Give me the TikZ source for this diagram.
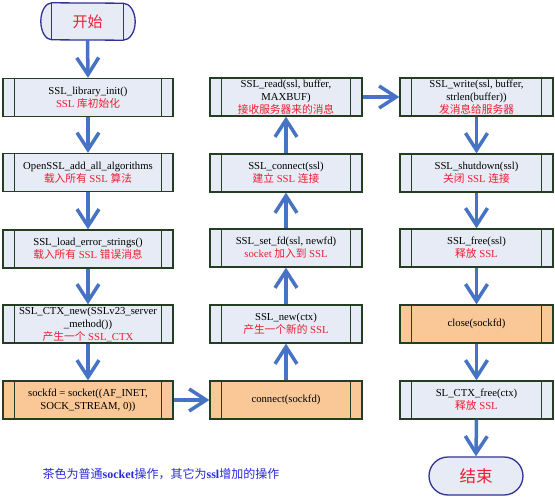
\documentclass[tikz,border=0pt]{standalone}
\usepackage{fontspec}
\setmainfont{Liberation Serif}
\newfontfamily\cjk{Noto Sans CJK SC}
\usetikzlibrary{arrows.meta}
\definecolor{boxfill}{RGB}{230,235,245}
\definecolor{boxline}{RGB}{35,62,35}
\definecolor{termline}{RGB}{50,50,150}
\definecolor{flowblue}{RGB}{70,115,195}
\definecolor{redtxt}{RGB}{235,30,50}
\definecolor{sockfill}{RGB}{250,200,150}
\definecolor{footblue}{RGB}{40,40,220}
\newcommand\zh[1]{{\cjk #1}}
\newcommand\rt[1]{\textcolor{redtxt}{#1}}
\tikzset{
  proc/.style={draw=boxline, line width=1.3pt, fill=boxfill, minimum height=38pt,
    inner sep=0pt, align=center, font=\fontsize{10.7}{13}\selectfont,
    path picture={\draw[boxline, line width=1.3pt]
      ([xshift=11.5pt]path picture bounding box.north west) -- ([xshift=11.5pt]path picture bounding box.south west)
      ([xshift=-11.5pt]path picture bounding box.north east) -- ([xshift=-11.5pt]path picture bounding box.south east);}},
  lcol/.style={proc, minimum width=170pt},
  mcol/.style={proc, minimum width=152pt},
  rcol/.style={proc, minimum width=153pt},
  sock/.style={fill=sockfill},
  term/.style={draw=termline, line width=1.3pt, fill=boxfill, font=\fontsize{16.5}{19}\selectfont\cjk, text=redtxt, inner sep=0pt},
  flow/.style={draw=flowblue, line width=3.5pt, -{Straight Barb[length=17pt,width=22pt]}},
}
\begin{document}
\begin{tikzpicture}[x=1pt,y=1pt]
\useasboundingbox (0,0) rectangle (555,-498);
% start terminal
\node[fill=boxfill, minimum width=71pt, minimum height=37pt, inner sep=0pt] (s) at (87.5,-21.5) {};
\fill[boxfill] (s.north west) arc[start angle=90, end angle=270, x radius=11pt, y radius=18.5pt] -- (s.south east)
  arc[start angle=-90, end angle=90, x radius=12pt, y radius=18.5pt] -- cycle;
\draw[termline, line width=1.3pt] (s.north west) arc[start angle=90, end angle=270, x radius=11pt, y radius=18.5pt] -- (s.south east)
  arc[start angle=-90, end angle=90, x radius=12pt, y radius=18.5pt] -- cycle;
\draw[termline, line width=1.3pt] (s.north west) -- (s.south west) (s.north east) -- (s.south east);
\node[font=\fontsize{15}{18}\selectfont\cjk, text=redtxt] (st) at (s.center) {开始};
% left column
\node[lcol] (l1) at (88,-97.5) {SSL\_library\_init()\\\rt{SSL \zh{库初始化}}};
\node[lcol] (l2) at (88,-172.5) {OpenSSL\_add\_all\_algorithms\\\rt{\zh{载入所有} SSL \zh{算法}}};
\node[lcol] (l3) at (88,-249) {SSL\_load\_error\_strings()\\\rt{\zh{载入所有} SSL \zh{错误消息}}};
\node[lcol] (l4) at (88,-324) {SSL\_CTX\_new(SSLv23\_server\\\_method())\\\rt{\zh{产生一个} SSL\_CTX}};
\node[lcol, sock] (l5) at (88,-400) {sockfd = socket((AF\_INET,\\SOCK\_STREAM, 0))};
% middle column
\node[mcol] (m1) at (286,-97) {SSL\_read(ssl, buffer,\\MAXBUF)\\\rt{\zh{接收服务器来的消息}}};
\node[mcol] (m2) at (286,-173) {SSL\_connect(ssl)\\\rt{\zh{建立} SSL \zh{连接}}};
\node[mcol] (m3) at (286,-248) {SSL\_set\_fd(ssl, newfd)\\\rt{socket \zh{加入到} SSL}};
\node[mcol] (m4) at (286,-324) {SSL\_new(ctx)\\\rt{\zh{产生一个新的} SSL}};
\node[mcol, sock] (m5) at (286,-400) {connect(sockfd)};
% right column
\node[rcol] (r1) at (476.5,-97) {SSL\_write(ssl, buffer,\\strlen(buffer))\\\rt{\zh{发消息给服务器}}};
\node[rcol] (r2) at (476.5,-173) {SSL\_shutdown(ssl)\\\rt{\zh{关闭} SSL \zh{连接}}};
\node[rcol] (r3) at (476.5,-248) {SSL\_free(ssl)\\\rt{\zh{释放} SSL}};
\node[rcol, sock] (r4) at (476.5,-324) {close(sockfd)};
\node[rcol] (r5) at (476.5,-400) {SL\_CTX\_free(ctx)\\\rt{\zh{释放} SSL}};
% end terminal
\node[term, minimum width=94pt, minimum height=38pt, rounded corners=19pt] (e) at (476,-476) {结束};
% flows
\draw[flow] (s.south) -- (l1.north);
\draw[flow] (l1.south) -- (l2.north);
\draw[flow] (l2.south) -- (l3.north);
\draw[flow] (l3.south) -- (l4.north);
\draw[flow] (l4.south) -- (l5.north);
\draw[flow] (l5.east) -- (m5.west);
\draw[flow] (m5.north) -- (m4.south);
\draw[flow] (m4.north) -- (m3.south);
\draw[flow] (m3.north) -- (m2.south);
\draw[flow] (m2.north) -- (m1.south);
\draw[flow] (m1.east) -- (r1.west);
\draw[flow] (r1.south) -- (r2.north);
\draw[flow] (r2.south) -- (r3.north);
\draw[flow] (r3.south) -- (r4.north);
\draw[flow] (r4.south) -- (r5.north);
\draw[flow] (r5.south) -- (e.north);
% footnote
\node[text=footblue, font=\fontsize{12}{14}\selectfont] (note) at (161,-474)
  {\zh{茶色为普通}\textbf{socket}\zh{操作，其它为}\textbf{ssl}\zh{增加的操作}};
\end{tikzpicture}
\end{document}
